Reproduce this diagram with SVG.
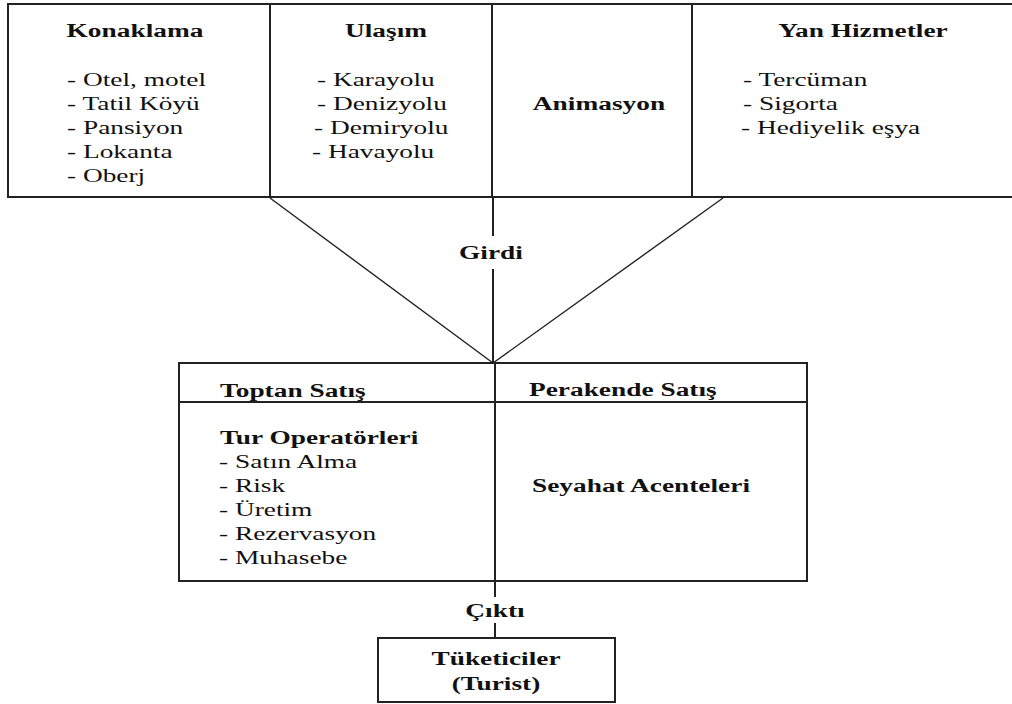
<svg xmlns="http://www.w3.org/2000/svg" width="1012" height="704" viewBox="0 0 1012 704">
<style>
.box{fill:#fff;stroke:#222;stroke-width:2}
.div{stroke:#222;stroke-width:2;fill:none}
.con{stroke:#222;stroke-width:1.4;fill:none}
.t{font-family:"Liberation Serif","Times New Roman",serif;font-size:19px;fill:#111}
.b{font-weight:bold}
.c{text-anchor:middle}
</style>
<rect width="1012" height="704" fill="#fff"/>
<g id="connectors">
<line class="con" x1="270" y1="198" x2="493" y2="363"/>
<line class="con" x1="723" y1="198" x2="493" y2="363"/>
<line class="div" x1="493" y1="197" x2="493" y2="236"/>
<line class="div" x1="493" y1="269" x2="493" y2="363"/>
<line class="div" x1="495" y1="581" x2="495" y2="597"/>
<line class="div" x1="495" y1="623" x2="495" y2="638"/>
</g>
<g id="girdi-label"><g transform="scale(1.44 1)"><text class="t b c" x="340.97" y="259">Girdi</text></g></g>
<g id="cikti-label"><g transform="scale(1.44 1)"><text class="t b c" x="343.75" y="617">Çıktı</text></g></g>
<g id="input-table">
<rect class="box" x="8" y="4" width="1012" height="193"/>
<line class="div" x1="270" y1="4" x2="270" y2="197"/>
<line class="div" x1="492" y1="4" x2="492" y2="197"/>
<line class="div" x1="692" y1="4" x2="692" y2="197"/>
</g>
<g id="konaklama"><g transform="scale(1.44 1)">
<text class="t b c" x="93.75" y="37">Konaklama</text>
<text class="t" x="46.53" y="86">- Otel, motel</text>
<text class="t" x="46.53" y="110">- Tatil Köyü</text>
<text class="t" x="46.53" y="134">- Pansiyon</text>
<text class="t" x="46.53" y="158">- Lokanta</text>
<text class="t" x="46.53" y="182">- Oberj</text>
</g></g>
<g id="ulasim"><g transform="scale(1.44 1)">
<text class="t b c" x="268.06" y="37">Ulaşım</text>
<text class="t" x="220.14" y="86">- Karayolu</text>
<text class="t" x="220.14" y="110">- Denizyolu</text>
<text class="t" x="218.06" y="134">- Demiryolu</text>
<text class="t" x="216.67" y="158">- Havayolu</text>
</g></g>
<g id="animasyon"><g transform="scale(1.44 1)">
<text class="t b c" x="415.97" y="110">Animasyon</text>
</g></g>
<g id="yan-hizmetler"><g transform="scale(1.44 1)">
<text class="t b c" x="599.31" y="37">Yan Hizmetler</text>
<text class="t" x="515.97" y="86">- Tercüman</text>
<text class="t" x="515.97" y="110">- Sigorta</text>
<text class="t" x="514.58" y="134">- Hediyelik eşya</text>
</g></g>
<g id="satis">
<rect class="box" x="179" y="363" width="628" height="218"/>
<line class="div" x1="179" y1="402" x2="807" y2="402"/>
<line class="div" x1="495" y1="363" x2="495" y2="581"/>
</g>
<g id="toptan-satis"><g transform="scale(1.44 1)">
<text class="t b" x="152.78" y="397">Toptan Satış</text>
<text class="t b" x="152.78" y="444">Tur Operatörleri</text>
<text class="t" x="152.08" y="468">- Satın Alma</text>
<text class="t" x="152.08" y="492">- Risk</text>
<text class="t" x="152.08" y="516">- Üretim</text>
<text class="t" x="152.08" y="540">- Rezervasyon</text>
<text class="t" x="152.08" y="564">- Muhasebe</text>
</g></g>
<g id="perakende-satis"><g transform="scale(1.44 1)">
<text class="t b" x="367.36" y="396">Perakende Satış</text>
<text class="t b" x="369.44" y="492">Seyahat Acenteleri</text>
</g></g>
<g id="tuketiciler">
<rect class="box" x="378" y="638" width="237" height="64"/>
<g transform="scale(1.44 1)">
<text class="t b c" x="344.44" y="665">Tüketiciler</text>
<text class="t b c" x="344.44" y="690">(Turist)</text>
</g></g>
</svg>
